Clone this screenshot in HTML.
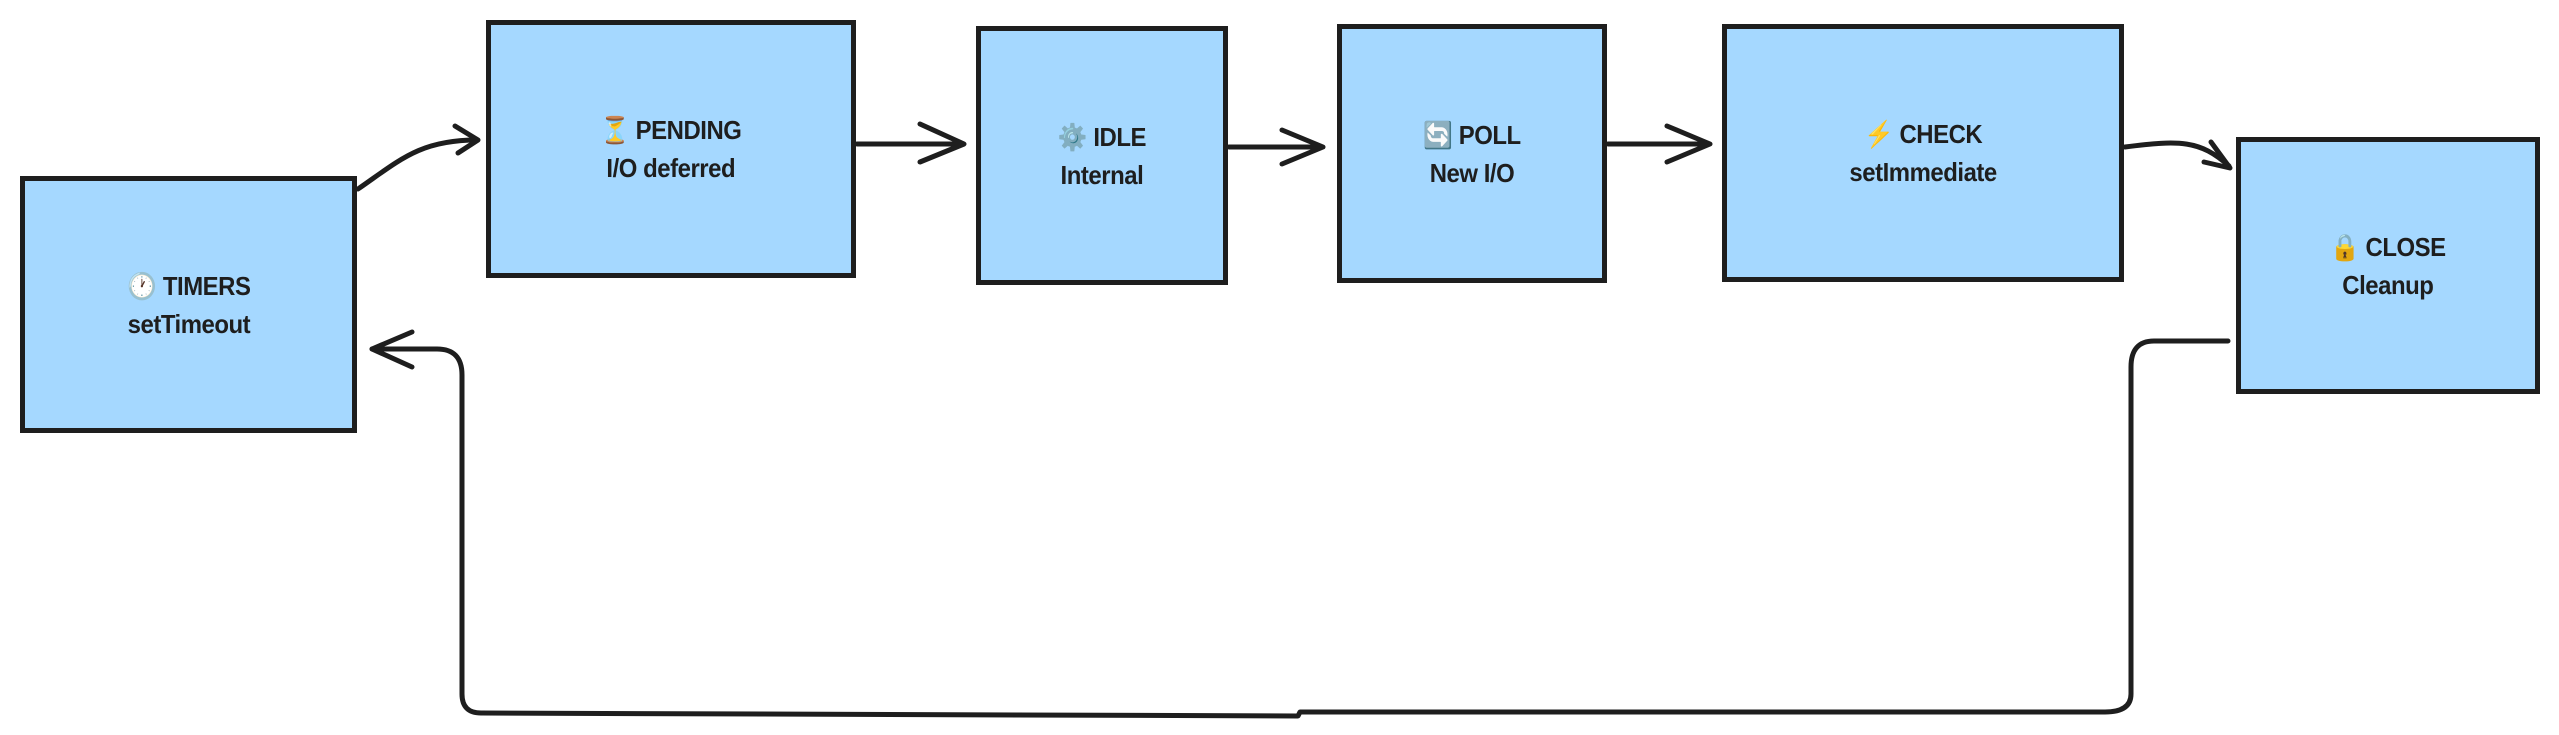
<!DOCTYPE html>
<html><head><meta charset="utf-8"><style>
html,body{margin:0;padding:0;background:#fff;}
body{width:2559px;height:735px;position:relative;overflow:hidden;font-family:"Liberation Sans",sans-serif;}
.b{position:absolute;background:#a5d8ff;border:5px solid #1e1e1e;box-sizing:border-box;display:flex;align-items:center;justify-content:center;text-align:center;}
.t{font-weight:bold;font-size:26px;line-height:38px;color:#1e1e1e;letter-spacing:-0.5px;transform:scaleX(0.92);}
svg{position:absolute;left:0;top:0;}
</style></head><body>
<div class="b" style="left:20px;top:176px;width:337px;height:257px"><div class="t">🕐 TIMERS<br>setTimeout</div></div>
<div class="b" style="left:486px;top:20px;width:370px;height:258px"><div class="t">⏳ PENDING<br>I/O deferred</div></div>
<div class="b" style="left:976px;top:26px;width:252px;height:259px"><div class="t">⚙️ IDLE<br>Internal</div></div>
<div class="b" style="left:1337px;top:24px;width:270px;height:259px"><div class="t">🔄 POLL<br>New I/O</div></div>
<div class="b" style="left:1722px;top:24px;width:402px;height:258px"><div class="t">⚡ CHECK<br>setImmediate</div></div>
<div class="b" style="left:2236px;top:137px;width:304px;height:257px"><div class="t">🔒 CLOSE<br>Cleanup</div></div>
<svg width="2559" height="735" fill="none" stroke="#1e1e1e" stroke-width="5" stroke-linecap="round" stroke-linejoin="round">
<path d="M358 189 C400 160 420 140 477 140"/><path d="M455 126 L478 140 L458 153"/>
<path d="M857 144 L963 144"/><path d="M920 124 L964 144 L920 162"/>
<path d="M1229 147 L1322 147"/><path d="M1282 130 L1323 147 L1282 164"/>
<path d="M1608 144 L1709 144"/><path d="M1667 126 L1710 144 L1667 162"/>
<path d="M2125 147 C2180 140 2200 140 2229 166"/><path d="M2211 142 L2230 168 L2204 162"/>
<path d="M2228 341 L2154 341 Q2131 341 2131 367 L2131 694 Q2131 712 2105 712 L1300 712 L1298 716 L481 713 Q462 713 462 694 L462 375 Q462 349 437 349 L372 349"/>
<path d="M412 332 L372 349 L412 367"/>
</svg>
</body></html>
